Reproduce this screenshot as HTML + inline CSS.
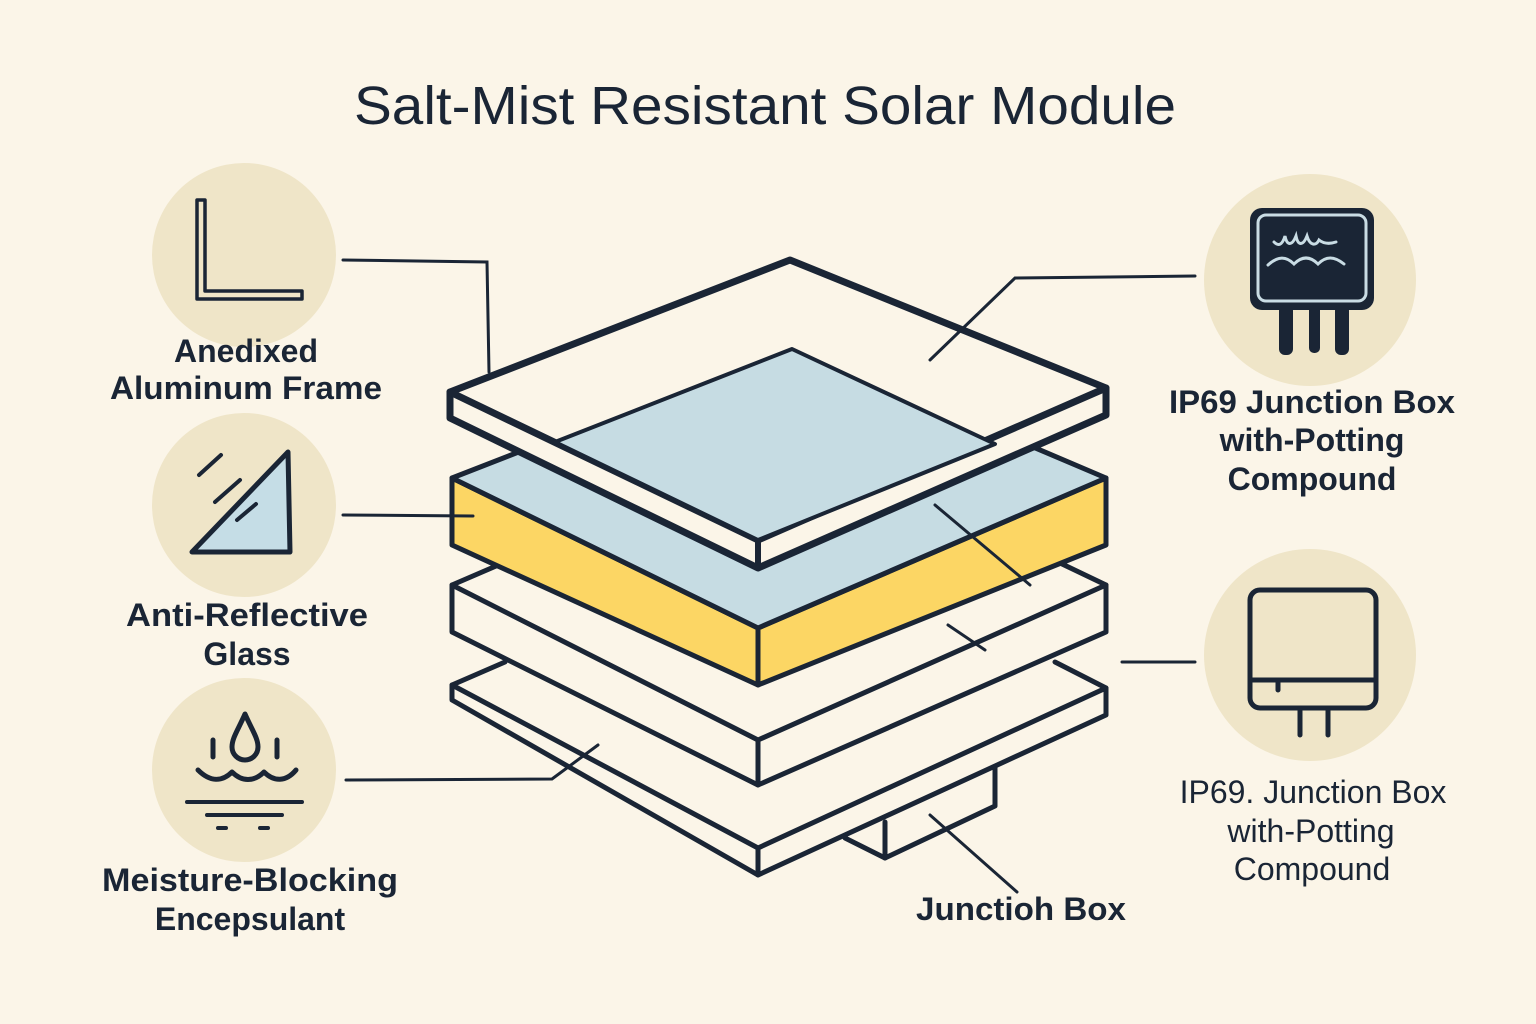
<!DOCTYPE html>
<html><head><meta charset="utf-8"><style>
html,body{margin:0;padding:0;background:#fbf5e8;}
svg{display:block}
text{font-family:"Liberation Sans",sans-serif;fill:#1a2535;}
</style></head><body>
<svg width="1536" height="1024" viewBox="0 0 1536 1024" xmlns="http://www.w3.org/2000/svg">
<rect width="1536" height="1024" fill="#fbf5e8"/>
<text x="765" y="124" font-size="54" text-anchor="middle" fill="#1f2d45" textLength="822" lengthAdjust="spacingAndGlyphs">Salt-Mist Resistant Solar Module</text>

<g fill="#efe5c8">
<circle cx="244" cy="255" r="92"/>
<circle cx="244" cy="505" r="92"/>
<circle cx="244" cy="770" r="92"/>
<circle cx="1310" cy="280" r="106"/>
<circle cx="1310" cy="655" r="106"/>
</g>

<g stroke="#1a2535" stroke-linecap="round" stroke-linejoin="round" fill="none">
<path d="M197 200 V299 H302 V291 H205 V200 Z" stroke-width="3.5"/>
<path d="M192 552 L288 452 L290 552 Z" fill="#c5dde6" stroke-width="5"/>
<path d="M199 475 L221 455 M215 502 L240 480 M237 520 L256 504" stroke-width="4"/>
<path d="M245 714 C238 730 232 738 232 747 A13 13 0 0 0 258 747 C258 738 252 730 245 714 Z" stroke-width="5"/>
<path d="M213 740 V757 M277 740 V757" stroke-width="5"/>
<path d="M198 770 C210 782 222 782 232 772 C242 782 254 782 264 772 C274 782 286 782 296 770" stroke-width="5"/>
<path d="M187 802 H302 M207 815 H282 M218 828 H226 M260 828 H268" stroke-width="4"/>
</g>
<rect x="1250" y="208" width="124" height="102" rx="12" fill="#1a2535"/>
<rect x="1258" y="215" width="108" height="86" rx="8" fill="none" stroke="#c9dce4" stroke-width="3"/>
<path d="M1274 242 C1278 246 1282 246 1285 236 C1287 246 1292 246 1296 236 C1298 246 1303 246 1307 236 C1310 246 1316 246 1319 240 C1324 244 1330 244 1336 242 M1268 265 C1278 256 1286 256 1294 264 C1302 256 1310 256 1318 264 C1326 256 1334 256 1344 264" stroke="#c9dce4" stroke-width="3" fill="none" stroke-linecap="round"/>
<g fill="#1a2535"><rect x="1279" y="305" width="14" height="50" rx="6"/><rect x="1309" y="305" width="11" height="48" rx="5"/><rect x="1335" y="305" width="14" height="50" rx="6"/></g>
<g stroke="#1a2535" stroke-width="5" fill="none" stroke-linecap="round">
<rect x="1250" y="590" width="126" height="118" rx="10"/>
<path d="M1252 680 H1374 M1278 680 V690 M1300 708 V735 M1328 708 V735"/>
</g>

<g stroke="#1a2535" stroke-linejoin="round" stroke-linecap="round">
<path d="M452 685 L505 662 M1106 688 L1055 662" stroke-width="5" fill="none"/>
<path d="M452 685 L758 848 L1106 688 L1106 715 L758 875 L452 700 Z" fill="#fbf5e8" stroke-width="5"/>
<path d="M758 848 V875" stroke-width="5"/>
<polyline points="845,838 885,858 885,822" fill="none" stroke-width="5"/>
<polyline points="885,858 995,806 995,767" fill="none" stroke-width="5"/>
<path d="M452 585 L510 560 M1106 585 L1060 563" stroke-width="5" fill="none"/>
<path d="M452 585 L758 740 L1106 585 L1106 632 L758 785 L452 632 Z" fill="#fbf5e8" stroke-width="5"/>
<path d="M758 740 V785" stroke-width="5"/>
<path d="M452 478 L758 628 L1106 478 L1106 545 L758 685 L452 545 Z" fill="#fcd664" stroke-width="5"/>
<path d="M452 478 L793 345 L1106 478 L758 628 Z" fill="#c6dce3" stroke-width="5"/>
<path d="M758 628 V685" stroke-width="5"/>
<path d="M450 392 L790 260 L1106 388 L1106 415 L758 568 L450 418 Z" fill="#fbf5e8" stroke-width="7"/>
<path d="M450 392 L758 540 L1106 388" fill="none" stroke-width="7"/>
<path d="M758 540 V568" stroke-width="6"/>
<path d="M555 442 L792 349 L995 444 L758 540 Z" fill="#c6dce3" stroke-width="4"/>
</g>

<g stroke="#1a2535" stroke-width="3" fill="none" stroke-linecap="round">
<polyline points="343,260 487,262 489,372"/>
<polyline points="343,515 473,516"/>
<polyline points="346,780 552,779 598,745"/>
<polyline points="1195,276 1015,278 930,360"/>
<polyline points="1195,662 1122,662"/>
<polyline points="935,505 1030,585"/>
<polyline points="948,625 985,650"/>
<polyline points="930,815 1017,892"/>
</g>

<g font-size="32" font-weight="bold" text-anchor="middle">
<text x="246" y="362">Anedixed</text>
<text x="246" y="399" textLength="272" lengthAdjust="spacingAndGlyphs">Aluminum Frame</text>
<text x="247" y="626" textLength="242" lengthAdjust="spacingAndGlyphs">Anti-Reflective</text>
<text x="247" y="665">Glass</text>
<text x="250" y="891" textLength="296" lengthAdjust="spacingAndGlyphs">Meisture-Blocking</text>
<text x="250" y="930">Encepsulant</text>
<text x="1312" y="413" textLength="286" lengthAdjust="spacingAndGlyphs">IP69 Junction Box</text>
<text x="1312" y="451">with-Potting</text>
<text x="1312" y="490">Compound</text>
<text x="1021" y="920" textLength="210" lengthAdjust="spacingAndGlyphs">Junctioh Box</text>
</g>
<g font-size="32" text-anchor="middle">
<text x="1313" y="803">IP69. Junction Box</text>
<text x="1311" y="842">with-Potting</text>
<text x="1312" y="880">Compound</text>
</g>
</svg>
</body></html>
